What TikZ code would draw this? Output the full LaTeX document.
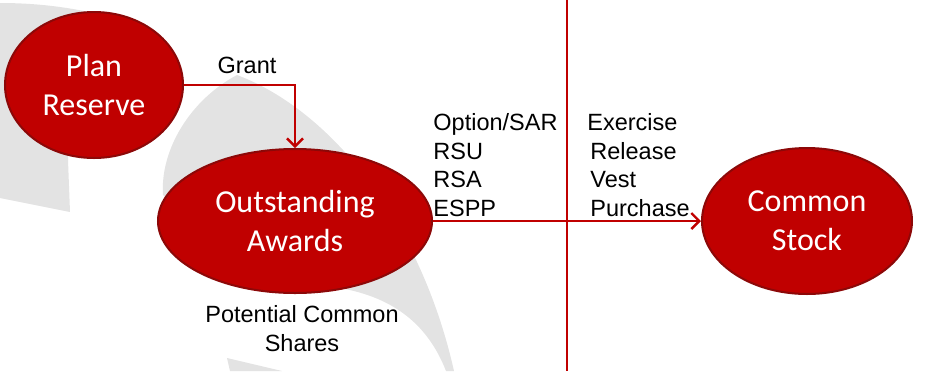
\documentclass[tikz,border=0pt]{standalone}
\usepackage{fontspec}
\setmainfont{Liberation Sans}
\newfontfamily\carlito{Carlito}
\usetikzlibrary{arrows.meta,shapes.geometric}
\definecolor{rojo}{RGB}{192,0,0}
\definecolor{rojoborde}{RGB}{140,8,8}
\definecolor{gris}{RGB}{227,227,227}
\tikzset{
  burbuja/.style={ellipse, fill=rojo, draw=rojoborde, line width=1pt, text=white,
    font=\carlito\fontsize{16}{19.5}\selectfont, align=center, inner sep=0pt},
  flecha/.style={draw=rojo, line width=1.2pt, -{Straight Barb[length=4pt,width=8pt]}},
  divisoria/.style={draw=rojo, line width=1.2pt},
  etiqueta/.style={font=\fontsize{11.75}{14.25}\selectfont, inner sep=0pt},
}
\begin{document}
\begin{tikzpicture}[x=0.5pt,y=-0.5pt]
% Marco
\useasboundingbox (0,0) rectangle (928,371);
% Fondo gris
\fill[gris] (0,3) .. controls (40,3) and (80,8) .. (120,20) -- (68,150) -- (68,160)
  -- (70,212) -- (0,198) -- cycle;
\fill[gris] (237,75) .. controls (330,110) and (420,220) .. (454,371) -- (446,371)
  .. controls (430,330) and (400,300) .. (345,289) -- (250,270) -- (163,195)
  .. controls (160,150) and (190,100) .. (237,75);
\fill[gris] (227,358) -- (282,371) -- (230,371) -- cycle;
% Linea divisoria
\coordinate (arriba) at (567,0);
\coordinate (abajo) at (567,371);
\draw[divisoria] (arriba) -- (abajo);
% Elipses
\node[burbuja, minimum width=89pt, minimum height=73pt] (plan) at (94,85) {Plan\\Reserve};
\node[burbuja, minimum width=137pt, minimum height=72pt] (awards) at (295,221) {Outstanding\\Awards};
\node[burbuja, minimum width=105pt, minimum height=73pt] (stock) at (807,221) {Common\\Stock};
% Flechas
\draw[flecha] (plan.east) -| (awards.north);
\draw[flecha] (awards.east) -- (stock.west);
% Textos
\node[etiqueta, anchor=base] (grant) at (247,73) {Grant};
\node[etiqueta, align=left, anchor=south west] (tipos) at (433,217) {Option/SAR\\RSU\\RSA\\ESPP};
\node[etiqueta, align=left, anchor=south west] (eventos) at (590,217) {\hspace*{-1.5pt}Exercise\\Release\\Vest\\Purchase};
\node[etiqueta, align=center, anchor=south] (potencial) at (302,352) {Potential Common\\Shares};
\end{tikzpicture}
\end{document}
